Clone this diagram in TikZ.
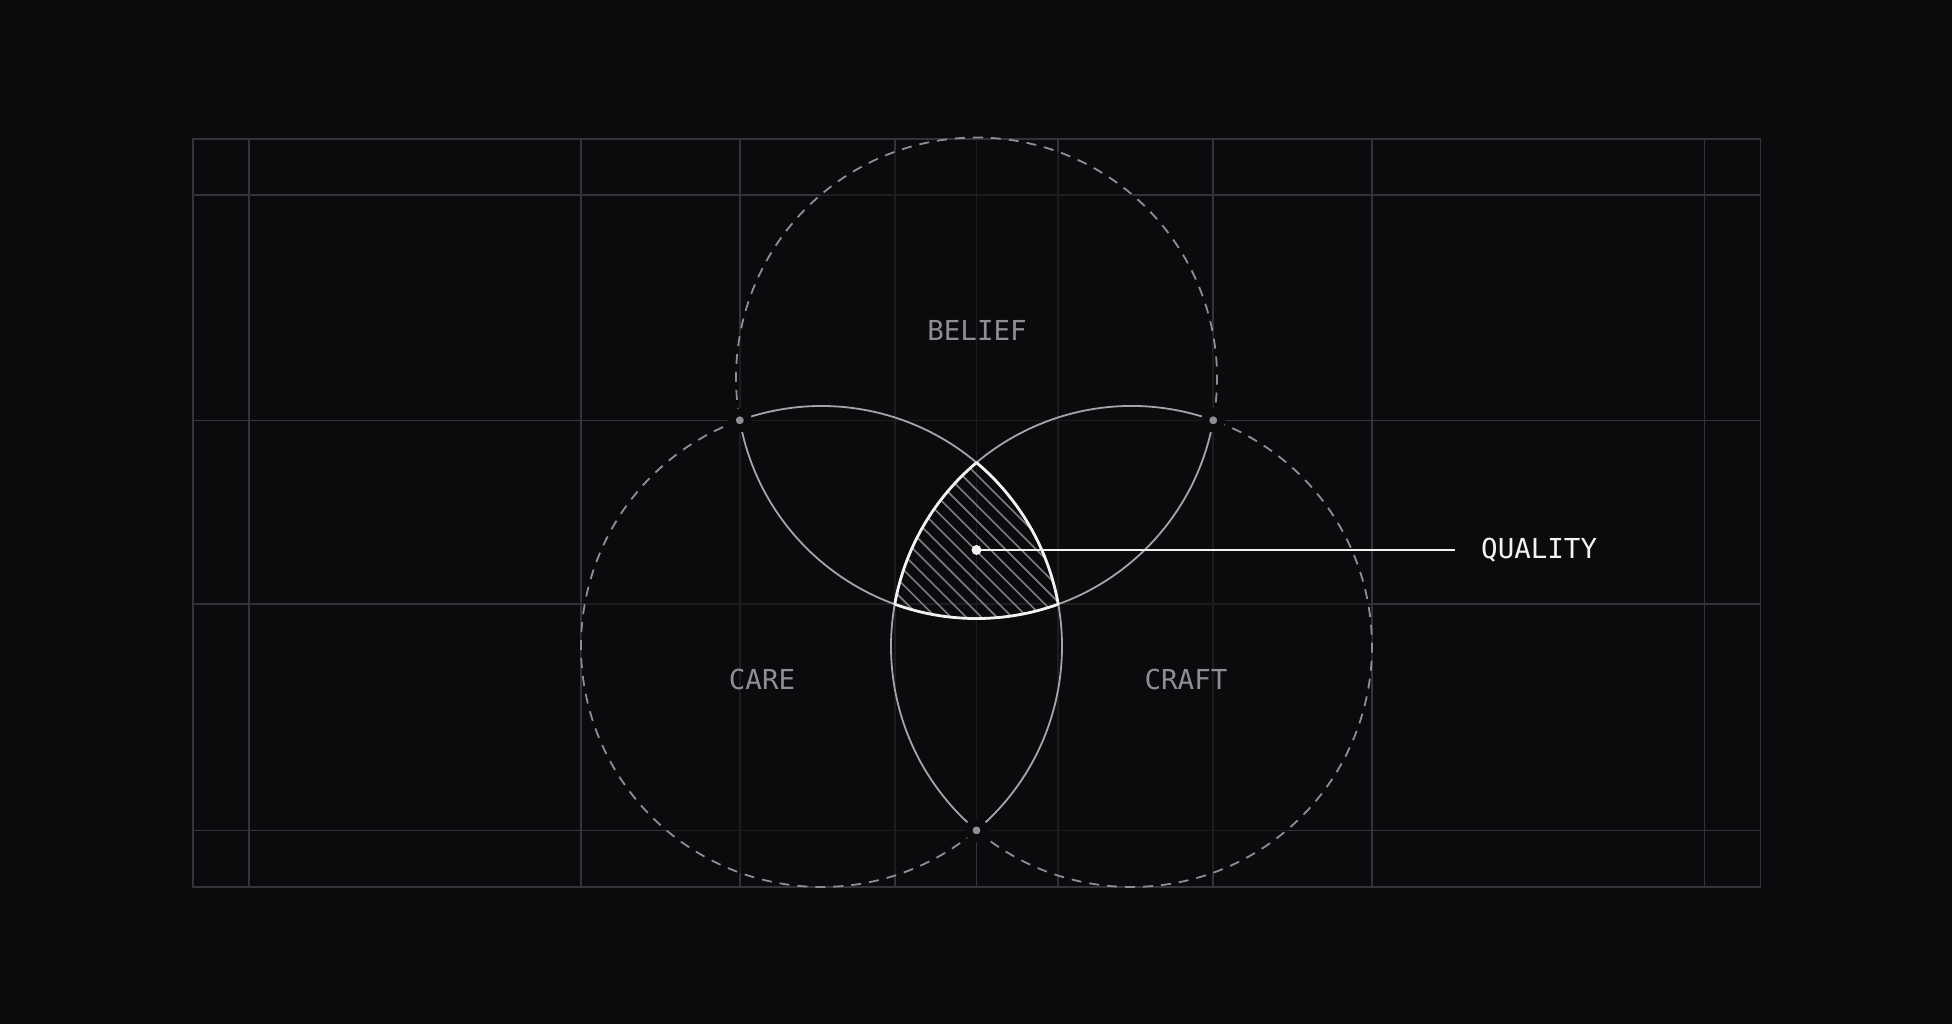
\documentclass[tikz,border=0pt]{standalone}
\usepackage{fontspec}
\setmonofont{DejaVu Sans Mono}
\definecolor{night}{HTML}{0A0B0D}
\definecolor{rule}{HTML}{333437}
\definecolor{ash}{HTML}{8D8F95}
\definecolor{mist}{HTML}{A3A5A9}
\definecolor{hatchgray}{HTML}{7A7C82}
\definecolor{chalk}{HTML}{F2F2F2}
\tikzset{
  guide/.style={draw=rule,line width=1.6pt},
  outerarc/.style={draw=ash,line width=1.8pt,dash pattern=on 10pt off 8pt},
  innerarc/.style={draw=mist,line width=1.8pt},
  hatchline/.style={draw=hatchgray,line width=1.6pt},
  knot/.style={circle,fill=ash,draw=night,line width=8pt,inner sep=0pt,minimum size=16pt},
  spot/.style={circle,fill=chalk,inner sep=0pt,minimum size=10pt},
  tag/.style={anchor=base,inner sep=0pt,text=ash,font=\ttfamily\fontsize{27.5}{33}\selectfont},
}
\begin{document}
\begin{tikzpicture}[x=1pt,y=1pt]
  \fill[night] (0,0) rectangle (1952,1024);
  \useasboundingbox (0,0) rectangle (1952,1024);
  \pgfmathsetmacro\al{acos(155/240.5)}
  \def\R{240.5pt}
  \coordinate (care) at (821.5,377.5);
  \coordinate (craft) at (1131.5,377.5);
  \coordinate (belief) at (976.5,645.97);

  \foreach \x in {249,581,739.76,894.76,976.5,1058.24,1213.24,1372,1704.5}
    \draw[guide] (\x,137) -- (\x,885);
  \foreach \y in {193.6,419.85,603.62,829}
    \draw[guide] (193,\y) -- (1760.5,\y);
  \fill[night,opacity=0.56] (belief) circle[radius=\R] (care) circle[radius=\R] (craft) circle[radius=\R];
  \draw[guide] (193,137) rectangle (1760.5,885);

  \foreach \c/\a in {belief/300,care/60,craft/180} {
    \draw[outerarc] (\c) ++(\a+\al:\R) arc[start angle=\a+\al,delta angle=300-2*\al,radius=\R];
    \draw[innerarc] (\c) ++(\a-60-\al:\R) arc[start angle=\a-60-\al,delta angle=60+2*\al,radius=\R];
  }

  \begin{scope}
    \clip (care) ++(60-\al:\R) arc[start angle=60-\al,end angle=\al,radius=\R]
      arc[start angle=180-\al,end angle=120+\al,radius=\R]
      arc[start angle=300-\al,end angle=240+\al,radius=\R] -- cycle;
    \foreach[evaluate={1069.5+15.3*\i} as \x] \i in {-10,...,7} {
      \draw[hatchline] (\x,380) -- ++(-220,220);
    }
  \end{scope}
  \draw[chalk,line width=2.8pt,line join=round] (care) ++(60-\al:\R) arc[start angle=60-\al,end angle=\al,radius=\R]
    arc[start angle=180-\al,end angle=120+\al,radius=\R]
    arc[start angle=300-\al,end angle=240+\al,radius=\R] -- cycle;

  \path (belief) ++(240-\al:\R) node[knot] (beliefcare) {};
  \path (belief) ++(300+\al:\R) node[knot] (beliefcraft) {};
  \path (care) ++(-\al:\R) node[knot] (carecraft) {};

  \node[spot] (quality) at (976.5,474) {};
  \coordinate (qualityend) at (1455,474);
  \draw[chalk,line width=2.2pt] (quality.center) -- (qualityend);
  \node[tag,anchor=base west,text=chalk] (qualityname) at (1481,465) {QUALITY};

  \node[tag] (beliefname) at (977,683) {BELIEF};
  \node[tag] (carename) at (762,334) {CARE};
  \node[tag] (craftname) at (1186,334) {CRAFT};
\end{tikzpicture}
\end{document}
